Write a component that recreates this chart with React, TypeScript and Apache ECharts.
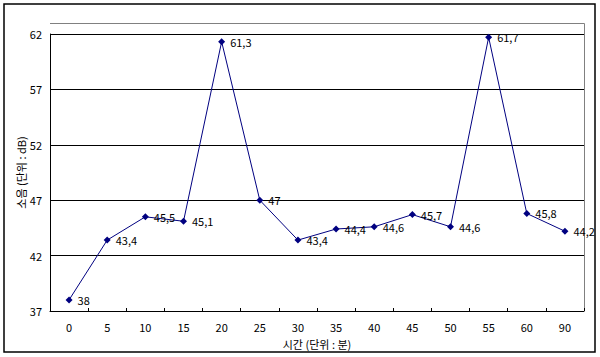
import React, { useEffect, useRef } from "react";
import * as echarts from "echarts";

const categories = ["0", "5", "10", "15", "20", "25", "30", "35", "40", "45", "50", "55", "60", "90"];
const noiseValues = [38, 43.4, 45.5, 45.1, 61.3, 47, 43.4, 44.4, 44.6, 45.7, 44.6, 61.7, 45.8, 44.2];
const yMin = 37;
const yMax = 62;
const yStep = 5;

const FONT = "'Noto Sans CJK KR', 'DejaVu Sans', sans-serif";

export default function App() {
  const ref = useRef<HTMLDivElement>(null);
  useEffect(() => {
    if (!ref.current) return;
    const chart = echarts.init(ref.current, undefined, { renderer: "svg" });
    chart.setOption({
      animation: false,
      backgroundColor: "#ffffff",
      grid: { left: 50, right: 16, top: 34, bottom: 46 },
      graphic: [
        {
          type: "rect",
          shape: { x: 4, y: 4, width: 591, height: 348 },
          style: { fill: "none", stroke: "#000", lineWidth: 1.5 },
          silent: true,
        },
        {
          type: "polyline",
          shape: { points: [[50, 23.5], [584.5, 23.5], [584.5, 311]] },
          style: { fill: "none", stroke: "#808080", lineWidth: 1 },
          silent: true,
        },
      ],
      xAxis: {
        type: "category",
        data: categories,
        boundaryGap: true,
        name: "시간 (단위 : 분)",
        nameLocation: "middle",
        nameGap: 27,
        nameMoveOverlap: false,
        nameTextStyle: { color: "#000", fontSize: 11, fontFamily: FONT },
        axisLine: { lineStyle: { color: "#000", width: 1 } },
        axisTick: { show: true, inside: true, length: 3, lineStyle: { color: "#000" } },
        axisLabel: { color: "#000", fontSize: 11, fontFamily: FONT, margin: 10 },
        splitLine: { show: false },
      },
      yAxis: {
        type: "value",
        min: yMin,
        max: yMax,
        interval: yStep,
        name: "소음 (단위 : dB)",
        nameLocation: "middle",
        nameGap: 24,
        nameMoveOverlap: false,
        nameTextStyle: { color: "#000", fontSize: 11, fontFamily: FONT },
        axisLine: { show: true, lineStyle: { color: "#000", width: 1 } },
        axisTick: { show: false },
        axisLabel: { color: "#000", fontSize: 11, fontFamily: FONT, margin: 8 },
        splitLine: { show: true, lineStyle: { color: "#000", width: 1 } },
      },
      series: [
        {
          type: "line",
          data: noiseValues,
          symbol: "diamond",
          symbolSize: 7,
          lineStyle: { color: "#000080", width: 1 },
          itemStyle: { color: "#000080" },
          label: {
            show: true,
            position: "right",
            distance: 5,
            color: "#000",
            fontSize: 11,
            fontFamily: FONT,
            formatter: (p: any) => String(p.value).replace(".", ","),
          },
        },
      ],
    });
    return () => chart.dispose();
  }, []);
  return (
    <div
      ref={ref}
      style={{ position: "fixed", left: 0, top: 0, width: 600, height: 357 }}
    />
  );
}
